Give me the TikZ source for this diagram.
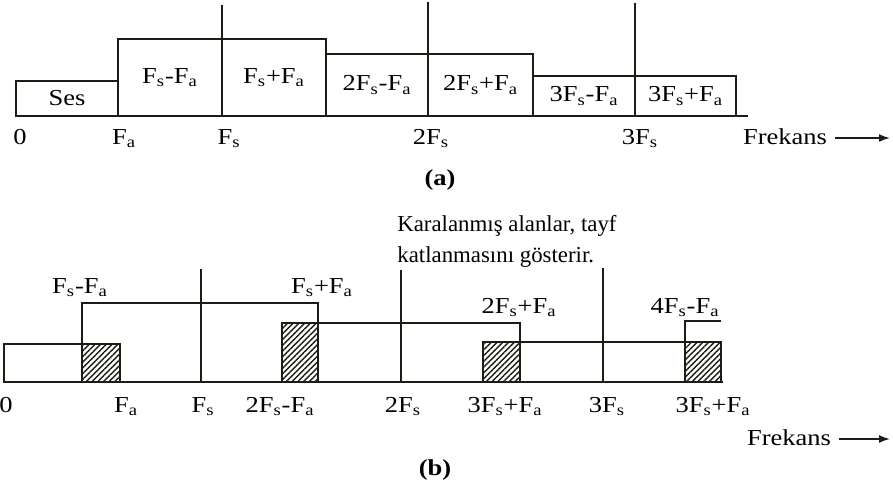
\documentclass[tikz,border=0pt]{standalone}
\usepackage{fontspec}
\setmainfont{Liberation Serif}
\newfontfamily\genis[FakeStretch=1.16]{Liberation Serif}
\usetikzlibrary{patterns.meta,arrows.meta}

\newcommand{\Fs}{F\textsubscript{s}}
\newcommand{\Fa}{F\textsubscript{a}}
\definecolor{cizgi}{RGB}{28,28,18}

\tikzset{
    spec/.style={draw=cizgi, line width=1.6pt},
    tarali/.style={spec, pattern={Lines[angle=45, distance=2.3pt, line width=0.8pt]}, pattern color=cizgi},
    etiket/.style={anchor=base, inner sep=0pt, font=\fontsize{13}{16}\selectfont\genis},
    notyazi/.style={anchor=base west, inner sep=0pt, font=\fontsize{13}{16}\selectfont},
    ok/.style={cizgi, line width=1pt, -{Latex[length=2.2mm, width=1.6mm]}},
}

\begin{document}
\begin{tikzpicture}[x=0.2mm, y=0.2mm]
    \useasboundingbox (0, 0) rectangle (893, 485);

    % (a) ornekleme sonrasi tayf
    \begin{scope}[shift={(0, 369)}]
        \foreach \xa/\xb/\h/\txt/\nm in {16/118/35/Ses/ses, 118/222/77/\Fs-\Fa/a1, 222/326/77/\Fs+\Fa/a2,
                326/428/62/2\Fs-\Fa/a3, 428/533/62/2\Fs+\Fa/a4, 533/635/40/3\Fs-\Fa/a5, 635/736/40/3\Fs+\Fa/a6} {
            \draw[spec] (\xa, 0) rectangle (\xb, \h);
            \node[etiket, anchor=center] (\nm) at ({(\xa+\xb)/2}, {\h/2}) {\txt};
        }
        \draw[spec] (16, 0) -- (748, 0);

        % ornekleme frekanslari
        \draw[spec] (222, 0) -- (222, 111);
        \draw[spec] (428, 0) -- (428, 114);
        \draw[spec] (635, 0) -- (635, 113);

        \node[etiket] (a0) at (20, -28) {0};
        \node[etiket] (aFa) at (124, -28) {\Fa};
        \node[etiket] (aFs) at (229, -28) {\Fs};
        \node[etiket] (a2Fs) at (431, -28) {2\Fs};
        \node[etiket] (a3Fs) at (640, -28) {3\Fs};
        \node[etiket] (frkA) at (785, -28) {Frekans};
        \coordinate (okA) at (890, -22);
        \draw[ok] (frkA.east |- okA) ++(8, 0) -- (okA);
        \node[etiket, font=\fontsize{13}{16}\selectfont\genis\bfseries] (capA) at (440, -69) {(a)};
    \end{scope}

    % (b) tayf katlanmasi
    \begin{scope}[shift={(0, 103)}]
        % taranmis alanlar
        \draw[tarali] (82, 0) rectangle (120, 38);
        \draw[tarali] (282, 0) rectangle (318, 59);
        \draw[tarali] (483, 0) rectangle (520, 40);
        \draw[tarali] (685, 0) rectangle (721, 40);

        \draw[spec] (4, 0) rectangle (120, 38);
        \draw[spec] (82, 0) -- (82, 79) -- (318, 79) -- (318, 0);
        \draw[spec] (282, 0) -- (282, 59) -- (520, 59) -- (520, 0);
        \draw[spec] (483, 0) -- (483, 40) -- (721, 40) -- (721, 0);
        \draw[spec] (685, 0) -- (685, 61) -- (721, 61);
        \draw[spec] (4, 0) -- (723, 0);

        \draw[spec] (201, 0) -- (201, 113);
        \draw[spec] (401, 0) -- (401, 112);
        \draw[spec] (603, 0) -- (603, 114);

        \node[etiket] (bFsFa) at (80, 89) {\Fs-\Fa};
        \node[etiket] (bFsFa2) at (322, 89) {\Fs+\Fa};
        \node[etiket] (b2FsFa) at (519, 69) {2\Fs+\Fa};
        \node[etiket] (b4FsFa) at (685, 69) {4\Fs-\Fa};

        \node[notyazi] (not1) at (397, 151) {Karalanmış alanlar, tayf};
        \node[notyazi] (not2) at (397, 120) {katlanmasını gösterir.};

        \node[etiket] (b0) at (6, -30) {0};
        \node[etiket] (bFa) at (126, -30) {\Fa};
        \node[etiket] (bFs) at (203, -30) {\Fs};
        \node[etiket] (b2FsmFa) at (280, -30) {2\Fs-\Fa};
        \node[etiket] (b2Fs) at (403, -30) {2\Fs};
        \node[etiket] (b3FspFa) at (505, -30) {3\Fs+\Fa};
        \node[etiket] (b3Fs) at (607, -30) {3\Fs};
        \node[etiket] (b3FspFa2) at (713, -30) {3\Fs+\Fa};

        \node[etiket] (frkB) at (789, -63) {Frekans};
        \coordinate (okB) at (890, -57);
        \draw[ok] (frkB.east |- okB) ++(8, 0) -- (okB);
        \node[etiket, font=\fontsize{13}{16}\selectfont\genis\bfseries] (capB) at (435, -93) {(b)};
    \end{scope}
\end{tikzpicture}
\end{document}
